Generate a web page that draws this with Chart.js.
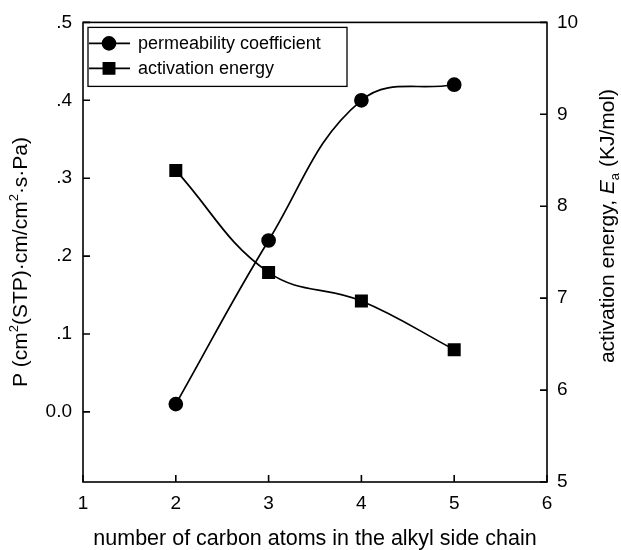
<!DOCTYPE html>
<html>
<head>
<meta charset="utf-8">
<script src="https://cdn.jsdelivr.net/npm/chart.js@4/dist/chart.umd.min.js"></script>
<style>
  html, body { margin: 0; padding: 0; background: #fff; }
  #wrap { width: 621px; height: 550px; position: relative; }
</style>
</head>
<body>
<div id="wrap"><canvas id="chart"></canvas></div>
<script>
// Number of carbon atoms in the alkyl side chain
const carbonAtoms = [2, 3, 4, 5];
// Permeability coefficient P, left axis
const permeability = [0.01, 0.22, 0.40, 0.42];
// Activation energy Ea (kJ/mol), right axis
const activationEnergy = [8.39, 7.28, 6.97, 6.44];

const xTicks = [1, 2, 3, 4, 5, 6];
const leftTicks = [0, 0.1, 0.2, 0.3, 0.4, 0.5];
const rightTicks = [5, 6, 7, 8, 9, 10];

const seriesNames = ['permeability coefficient', 'activation energy'];
const xTitle = 'number of carbon atoms in the alkyl side chain';

const FAMILY = '"Liberation Sans", Arial, Helvetica, sans-serif';
const INK = '#000';

function fixedTicks(values) {
  return scale => { scale.ticks = values.map(v => ({ value: v })); };
}

// Draw a run of text pieces (with super/subscripts) centred on (cx, cy)
function drawRich(ctx, pieces, cx, cy, angle) {
  ctx.save();
  ctx.translate(cx, cy);
  ctx.rotate(angle);
  ctx.textBaseline = 'alphabetic';
  ctx.textAlign = 'left';
  let total = 0;
  pieces.forEach(p => { ctx.font = p.font; p.w = ctx.measureText(p.text).width; total += p.w; });
  let x = -total / 2;
  pieces.forEach(p => {
    ctx.font = p.font;
    ctx.fillText(p.text, x, p.dy || 0);
    x += p.w;
  });
  ctx.restore();
}

const decorations = {
  id: 'decorations',
  afterDraw(chart) {
    const { ctx, chartArea: a, scales } = chart;
    ctx.save();
    ctx.strokeStyle = INK;
    ctx.fillStyle = INK;
    ctx.lineWidth = 1.6;

    // plot frame
    ctx.strokeRect(a.left, a.top, a.right - a.left, a.bottom - a.top);

    // inward tick marks
    const tl = 7;
    ctx.beginPath();
    scales.y.ticks.forEach(t => {
      const py = scales.y.getPixelForValue(t.value);
      ctx.moveTo(a.left, py); ctx.lineTo(a.left + tl, py);
    });
    scales.y1.ticks.forEach(t => {
      const py = scales.y1.getPixelForValue(t.value);
      ctx.moveTo(a.right, py); ctx.lineTo(a.right - tl, py);
    });
    scales.x.ticks.forEach(t => {
      const px = scales.x.getPixelForValue(t.value);
      ctx.moveTo(px, a.bottom); ctx.lineTo(px, a.bottom - tl);
    });
    ctx.stroke();

    // legend box in the upper-left corner
    const bx = a.left + 5, by = a.top + 5, bw = 259, bh = 59;
    ctx.lineWidth = 1.3;
    ctx.strokeRect(bx, by, bw, bh);
    chart.data.datasets.forEach((ds, i) => {
      const ly = by + 16 + i * 25;
      ctx.lineWidth = 1.6;
      ctx.beginPath();
      ctx.moveTo(bx + 1, ly); ctx.lineTo(bx + 42, ly);
      ctx.stroke();
      Chart.helpers.drawPoint(ctx, {
        pointStyle: ds.pointStyle, radius: ds.pointRadius, borderWidth: 1, rotation: 0
      }, bx + 21, ly);
      ctx.fill();
      ctx.font = '18px ' + FAMILY;
      ctx.textBaseline = 'middle';
      ctx.textAlign = 'left';
      ctx.fillText(ds.label, bx + 50, ly + 1);
    });

    // axis titles
    ctx.textAlign = 'center';
    ctx.textBaseline = 'alphabetic';
    ctx.font = '21.5px ' + FAMILY;
    ctx.fillText(xTitle, (a.left + a.right) / 2, 545);

    const base = '21px ' + FAMILY;
    const small = '13px ' + FAMILY;
    drawRich(ctx, [
      { text: 'P (cm', font: base },
      { text: '2', font: small, dy: -9 },
      { text: '(STP)\u00B7cm/cm', font: base },
      { text: '2', font: small, dy: -9 },
      { text: '\u00B7s\u00B7Pa)', font: base }
    ], 27, 262, -Math.PI / 2);

    drawRich(ctx, [
      { text: 'activation energy, ', font: base },
      { text: 'E', font: 'italic ' + base },
      { text: 'a', font: small, dy: 5 },
      { text: ' (KJ/mol)', font: base }
    ], 614, 226, -Math.PI / 2);

    ctx.restore();
  }
};

const tickFont = { family: FAMILY, size: 19 };

new Chart(document.getElementById('chart'), {
  type: 'line',
  data: {
    datasets: [
      {
        label: seriesNames[0],
        data: carbonAtoms.map((x, i) => ({ x, y: permeability[i] })),
        yAxisID: 'y',
        borderColor: INK, backgroundColor: INK,
        pointBackgroundColor: INK, pointBorderColor: INK,
        borderWidth: 1.7, pointStyle: 'circle', pointRadius: 6.5,
        tension: 0.4, fill: false
      },
      {
        label: seriesNames[1],
        data: carbonAtoms.map((x, i) => ({ x, y: activationEnergy[i] })),
        yAxisID: 'y1',
        borderColor: INK, backgroundColor: INK,
        pointBackgroundColor: INK, pointBorderColor: INK,
        borderWidth: 1.7, pointStyle: 'rect', pointRadius: 8,
        tension: 0.4, fill: false
      }
    ]
  },
  options: {
    responsive: true,
    maintainAspectRatio: false,
    animation: false,
    layout: { padding: { top: 21, left: 0, right: 0, bottom: 0 } },
    plugins: { legend: { display: false }, tooltip: { enabled: false } },
    scales: {
      x: {
        type: 'linear', min: 1, max: 6,
        afterBuildTicks: fixedTicks(xTicks),
        afterFit: s => { s.height = 68; },
        grid: { display: false, drawTicks: false }, border: { display: false },
        ticks: { font: tickFont, color: INK, padding: 10, maxRotation: 0, autoSkip: false }
      },
      y: {
        position: 'left', min: -0.09, max: 0.5,
        afterBuildTicks: fixedTicks(leftTicks),
        afterFit: s => { s.width = 83; },
        grid: { display: false, drawTicks: false }, border: { display: false },
        ticks: {
          font: tickFont, color: INK, padding: 11,
          callback: v => v === 0 ? '0.0' : v.toFixed(1).replace(/^0/, '')
        }
      },
      y1: {
        position: 'right', min: 5, max: 10,
        afterBuildTicks: fixedTicks(rightTicks),
        afterFit: s => { s.width = 74; },
        grid: { display: false, drawTicks: false }, border: { display: false },
        ticks: { font: tickFont, color: INK, padding: 10 }
      }
    }
  },
  plugins: [decorations]
});
</script>
</body>
</html>
